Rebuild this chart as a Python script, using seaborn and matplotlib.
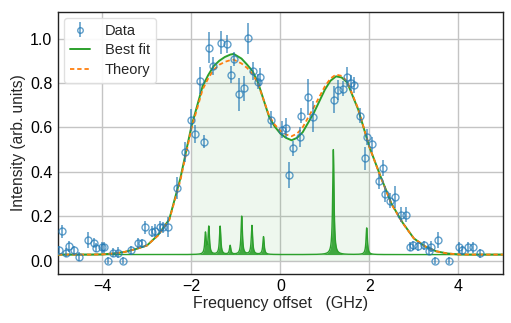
import numpy as np
import matplotlib
matplotlib.use("Agg")
import matplotlib.pyplot as plt
import seaborn as sns

# ---- data ----
data_x = [-4.98, -4.9, -4.82, -4.76, -4.65, -4.52, -4.33, -4.2, -4.14, -4.01, -3.96, -3.87,
          -3.77, -3.65, -3.53, -3.36, -3.2, -3.12, -3.04, -2.88, -2.81, -2.7, -2.63, -2.52,
          -2.32, -2.15, -2.02, -1.93, -1.8, -1.72, -1.6, -1.52, -1.34, -1.21, -1.12, -1.05,
          -0.92, -0.82, -0.73, -0.61, -0.5, -0.45, -0.22, 0.03, 0.13, 0.2, 0.28, 0.43, 0.46,
          0.62, 0.74, 1.21, 1.29, 1.4, 1.5, 1.59, 1.65, 1.78, 1.9, 1.95, 2.07, 2.22, 2.3,
          2.34, 2.46, 2.58, 2.7, 2.82, 2.91, 2.99, 3.09, 3.22, 3.33, 3.39, 3.48, 3.55, 3.78,
          4.02, 4.08, 4.22, 4.34, 4.49]
data_y = [0.046, 0.132, 0.035, 0.065, 0.046, 0.017, 0.092, 0.08, 0.057, 0.06, 0.06, 0.0,
          0.035, 0.035, 0.0, 0.046, 0.077, 0.077, 0.15, 0.13, 0.135, 0.15, 0.15, 0.15,
          0.327, 0.49, 0.635, 0.57, 0.81, 0.535, 0.958, 0.877, 0.982, 0.977, 0.838, 0.908,
          0.749, 0.776, 1.001, 0.854, 0.806, 0.826, 0.635, 0.59, 0.597, 0.386, 0.505, 0.555, 0.653,
          0.737, 0.647, 0.725, 0.767, 0.775, 0.826, 0.8, 0.79, 0.653, 0.46, 0.557, 0.523, 0.357, 0.418,
          0.3, 0.27, 0.285, 0.207, 0.207, 0.062, 0.069, 0.065, 0.069, 0.045, 0.062, 0.0, 0.092, 0.0,
          0.06, 0.046, 0.06, 0.06, 0.032]
data_err = [0.02, 0.03, 0.02, 0.025, 0.02, 0.02, 0.035, 0.02, 0.02, 0.025, 0.025, 0.015,
            0.02, 0.025, 0.015, 0.02, 0.025, 0.02, 0.03, 0.025, 0.03, 0.03, 0.025, 0.045,
            0.05, 0.045, 0.05, 0.04, 0.06, 0.03, 0.07, 0.04, 0.05, 0.04, 0.04, 0.03,
            0.075, 0.055, 0.07, 0.04, 0.035, 0.04, 0.04, 0.04, 0.045, 0.06, 0.035, 0.045, 0.035,
            0.08, 0.07, 0.06, 0.045, 0.035, 0.045, 0.035, 0.035, 0.035, 0.05, 0.035, 0.035, 0.035, 0.035,
            0.035, 0.035, 0.05, 0.035, 0.035, 0.02, 0.02, 0.02, 0.02, 0.02, 0.025, 0.015, 0.035, 0.015,
            0.025, 0.02, 0.025, 0.025, 0.02]

curve_x = [-5.0, -4.75, -4.5, -4.25, -4.0, -3.75, -3.5, -3.25, -3.0, -2.75, -2.5, -2.25,
           -2.0, -1.75, -1.625, -1.5, -1.375, -1.25, -1.125, -1.05, -0.875, -0.75, -0.625,
           -0.5, -0.25, -0.125, 0.0, 0.125, 0.25, 0.375, 0.5, 0.75, 1.0, 1.125, 1.25, 1.375,
           1.5, 1.75, 2.0, 2.25, 2.5, 2.75, 3.0, 3.25, 3.5, 3.75, 4.0, 4.25, 4.5, 4.75, 5.0]
fit_y = [0.027, 0.027, 0.027, 0.027, 0.028, 0.032, 0.039, 0.052, 0.068, 0.115, 0.185, 0.37,
         0.605, 0.785, 0.835, 0.876, 0.90, 0.917, 0.928, 0.931, 0.91, 0.883, 0.853,
         0.80, 0.645, 0.603, 0.572, 0.553, 0.542, 0.553, 0.578, 0.665, 0.77, 0.81, 0.83, 0.825,
         0.803, 0.68, 0.512, 0.38, 0.255, 0.17, 0.10, 0.064, 0.042, 0.032, 0.028, 0.027, 0.027, 0.027, 0.027]
theory_y = [0.027, 0.027, 0.027, 0.027, 0.028, 0.032, 0.039, 0.052, 0.068, 0.113, 0.182, 0.36,
            0.595, 0.77, 0.82, 0.86, 0.882, 0.895, 0.903, 0.905, 0.888, 0.868, 0.84,
            0.795, 0.65, 0.612, 0.585, 0.568, 0.56, 0.572, 0.60, 0.69, 0.785, 0.82, 0.838, 0.832,
            0.808, 0.683, 0.512, 0.378, 0.253, 0.168, 0.10, 0.064, 0.042, 0.032, 0.028, 0.027, 0.027, 0.027, 0.027]

line_pos = [-1.685, -1.61, -1.355, -1.13, -0.87, -0.64, -0.38, 1.19, 1.94]
line_height = [0.095, 0.123, 0.127, 0.04, 0.172, 0.13, 0.08, 0.473, 0.12]
baseline = 0.027

# ---- styling ----
sns.set_style("white")
plt.rcParams['font.family'] = ['Liberation Sans', 'DejaVu Sans']

blue = '#1f77b4'
green = '#2ca02c'
orange = '#ff7f0e'

fig = plt.figure(figsize=(5.11, 3.23), dpi=100)
ax = fig.add_axes([0.1135, 0.152, 0.8705, 0.811])

cx = np.array(curve_x)
fy = np.array(fit_y)
mask = (cx >= -2.0) & (cx <= 2.0)
ax.fill_between(cx, 0, fy, where=mask, color=green, alpha=0.08, lw=0, zorder=1)

# stick spectrum drawn as narrow peaks on the baseline
grid = np.linspace(-5, 5, 4001)
spec = np.full_like(grid, baseline)
gam = 0.018
for c, h in zip(line_pos, line_height):
    spec += h * gam**2 / ((grid - c)**2 + gam**2)
ax.fill_between(grid, baseline, spec, color=green, alpha=0.9, lw=0, zorder=2)
ax.plot(grid, spec, color=green, lw=1.0, zorder=2)

sns.lineplot(x=curve_x, y=fit_y, ax=ax, color=green, lw=1.4, label='Best fit', zorder=4)
sns.lineplot(x=curve_x, y=theory_y, ax=ax, color=orange, lw=1.3, ls=(0, (2.4, 1.6)),
             label='Theory', zorder=5)

ax.errorbar(data_x, data_y, yerr=data_err, fmt='o', ms=5, mfc='none', mec=blue,
            mew=1.0, ecolor=blue, elinewidth=1.2, alpha=0.7, capsize=0, label='Data', zorder=6)

ax.set_xlim(-5, 5)
ax.set_ylim(-0.06, 1.12)
ax.set_xticks([-4, -2, 0, 2, 4])
ax.set_yticks([0.0, 0.2, 0.4, 0.6, 0.8, 1.0])
ax.set_yticklabels(['0.0', '0.2', '0.4', '0.6', '0.8', '1.0'])
ax.grid(True, color='#c4c4c4', lw=1.0)
ax.set_axisbelow(True)
ax.tick_params(direction='in', length=4, width=1, labelsize=11.5, colors='black', pad=4)
for s in ax.spines.values():
    s.set_color('#222222')
    s.set_linewidth(1.0)
ax.set_xlabel('Frequency offset   (GHz)', fontsize=11.5, labelpad=1)
ax.set_ylabel('Intensity (arb. units)', fontsize=11.2, labelpad=3)

h, l = ax.get_legend_handles_labels()
order = [l.index('Data'), l.index('Best fit'), l.index('Theory')]
ax.legend([h[i] for i in order], [l[i] for i in order], loc='upper left',
          fontsize=10.5, frameon=True, framealpha=0.9, edgecolor='#dddddd',
          borderpad=0.4, handlelength=1.4, labelspacing=0.4, handletextpad=1.0,
          borderaxespad=0.4, markerscale=0.8)

fig.savefig('out.png', dpi=100)
